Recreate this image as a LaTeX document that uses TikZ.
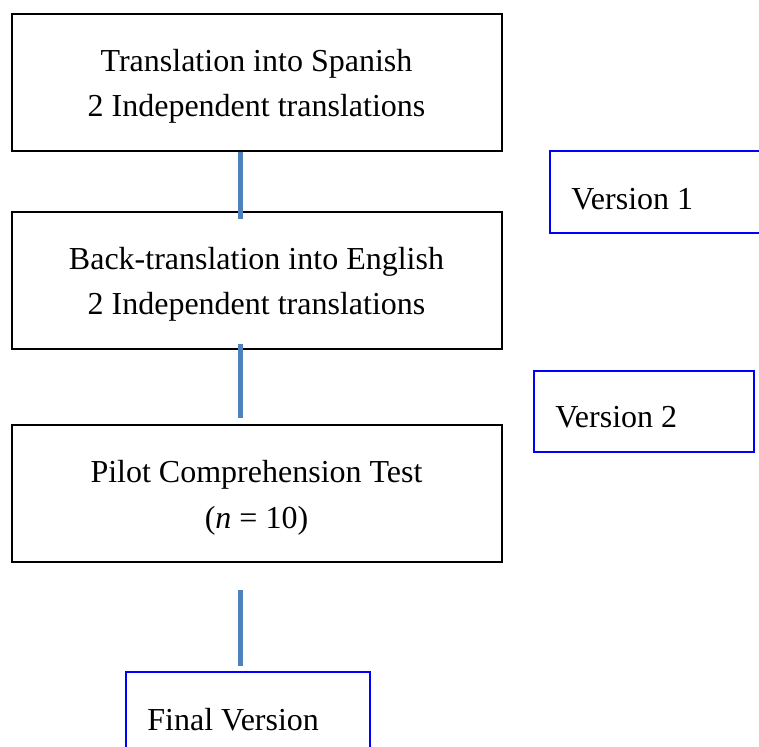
\documentclass[tikz,border=0pt]{standalone}
\usepackage{fontspec}
\setmainfont{Liberation Serif}
\definecolor{connblue}{RGB}{79,129,189}
\begin{document}
\begin{tikzpicture}[x=0.5pt,y=-0.5pt,
  stepbox/.style={draw=black,line width=1pt,minimum width=245pt,minimum height=68.5pt,inner sep=0pt},
  verbox/.style={draw={rgb,255:red,0;green,0;blue,255},line width=1pt,inner sep=0pt},
  txt/.style={anchor=base,inner sep=0pt,font=\fontsize{16}{19}\selectfont},
  ltxt/.style={anchor=base west,inner sep=0pt,font=\fontsize{16}{19}\selectfont},
  conn/.style={draw=connblue,line width=2.5pt}]
\useasboundingbox (0,0) rectangle (759,747);
\clip (0,0) rectangle (759,747);
\coordinate (cx) at (240,0);
% main boxes
\node[stepbox] (b1) at (256.5,82.5) {};
\node[stepbox] (b2) at (256.5,280.5) {};
\node[stepbox] (b3) at (256.5,493.7) {};
\node[txt] (t1a) at (256.5,72) {Translation into Spanish};
\node[txt] (t1b) at (256.5,117) {2 Independent translations};
\node[txt] (t2a) at (256.5,270) {Back-translation into English};
\node[txt] (t2b) at (256.5,315) {2 Independent translations};
\node[txt] (t3a) at (256.5,483) {Pilot Comprehension Test};
\node[txt] (t3b) at (256.5,529) {(\textit{n} = 10)};
% version boxes
\node[verbox,minimum width=120pt,minimum height=41pt] (v1) at (670,192) {};
\node[ltxt] (v1t) at (571,210) {Version 1};
\node[verbox,minimum width=110pt,minimum height=40.5pt] (v2) at (644,411.5) {};
\node[ltxt] (v2t) at (555,428) {Version 2};
\node[verbox,minimum width=122pt,minimum height=64pt] (fin) at (248,736) {};
\node[ltxt] (fint) at (147,730) {Final Version};
% connectors
\draw[conn,shorten >=-4pt] (b1.south -| cx) -- (b2.north -| cx);
\draw[conn,shorten <=-3pt,shorten >=3.3pt] (b2.south -| cx) -- (b3.north -| cx);
\draw[conn,shorten <=13.6pt,shorten >=2.5pt] (b3.south -| cx) -- (fin.north -| cx);
\end{tikzpicture}
\end{document}
